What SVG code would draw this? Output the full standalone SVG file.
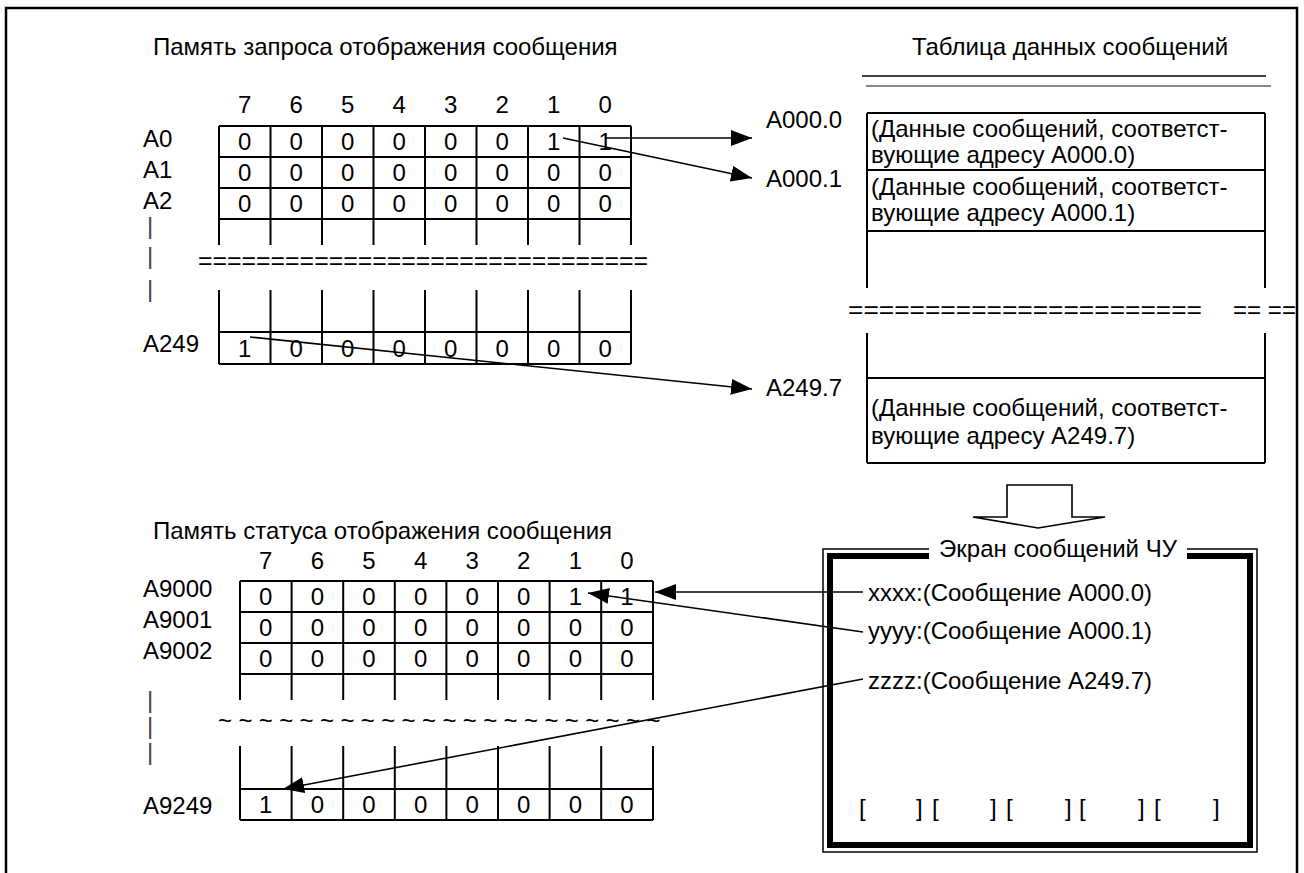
<svg xmlns="http://www.w3.org/2000/svg" width="1304" height="873" viewBox="0 0 1304 873">
<defs>
<style>
.t{font-family:"Liberation Sans",Arial,Helvetica,sans-serif;font-size:24px;fill:#000}
.c{text-anchor:middle}
.g{stroke:#000;stroke-width:2;fill:none}
.bar{fill:#444}
.cn{stroke:#000;stroke-width:1.6;fill:none;marker-end:url(#ah)}
</style>
<marker id="ah" markerUnits="userSpaceOnUse" markerWidth="24" markerHeight="18" refX="21" refY="8" orient="auto">
<path d="M0,0 L21,8 L0,16 z" fill="#000"/>
</marker>
</defs>
<rect width="1304" height="873" fill="#fff"/>
<path d="M6,873 V8 H1297 V873" fill="none" stroke="#000" stroke-width="2.5"/>

<g id="request-memory">
<text class="t" x="153" y="55">Память запроса отображения сообщения</text>
<text class="t c" x="244.75 296.25 347.75 399.25 450.75 502.25 553.75 605.25" y="113">76543210</text>
<path class="g" d="M219,126 H631 M219,157 H631 M219,188 H631 M219,219 H631
M219,126 V245 M270.5,126 V245 M322,126 V245 M373.5,126 V245 M425,126 V245 M476.5,126 V245 M528,126 V245 M579.5,126 V245 M631,126 V245
M219,290 V364 M270.5,290 V364 M322,290 V364 M373.5,290 V364 M425,290 V364 M476.5,290 V364 M528,290 V364 M579.5,290 V364 M631,290 V364
M219,332 H631 M219,364 H631"/>
<text class="t" x="143" y="147">A0</text>
<text class="t" x="143" y="178">A1</text>
<text class="t" x="143" y="209">A2</text>
<text class="t" x="143" y="352">A249</text>
<text class="t bar" x="147" y="234">|</text>
<text class="t bar" x="147" y="264">|</text>
<text class="t bar" x="147" y="297">|</text>
<text class="t c" x="244.75 296.25 347.75 399.25 450.75 502.25 553.75 605.25" y="150">00000011</text>
<text class="t c" x="244.75 296.25 347.75 399.25 450.75 502.25 553.75 605.25" y="181">00000000</text>
<text class="t c" x="244.75 296.25 347.75 399.25 450.75 502.25 553.75 605.25" y="212">00000000</text>
<text class="t c" x="244.75 296.25 347.75 399.25 450.75 502.25 553.75 605.25" y="357">10000000</text>
<text class="t" x="198" y="269" textLength="450" lengthAdjust="spacingAndGlyphs">===============================</text>
<text class="t" x="766" y="128">A000.0</text>
<text class="t" x="766" y="187">A000.1</text>
<text class="t" x="766" y="396">A249.7</text>
</g>

<g id="message-table">
<text class="t c" x="1070" y="55">Таблица данных сообщений</text>
<path d="M862,76 H1266" stroke="#000" stroke-width="1.5"/>
<path d="M866,86 H1271" stroke="#888" stroke-width="2"/>
<path class="g" d="M867,113 H1265 M867,170 H1265 M867,231 H1265 M867,113 V288 M1265,113 V288 M867,333 V463 M1265,333 V463 M867,378 H1265 M867,463 H1265"/>
<text class="t" x="871" y="137">(Данные сообщений, соответст-</text>
<text class="t" x="871" y="163">вующие адресу A000.0)</text>
<text class="t" x="871" y="195">(Данные сообщений, соответст-</text>
<text class="t" x="871" y="221">вующие адресу A000.1)</text>
<text class="t" x="848" y="318" textLength="354" lengthAdjust="spacingAndGlyphs">=======================</text>
<text class="t" x="1233" y="318" textLength="63" lengthAdjust="spacingAndGlyphs">== ==</text>
<text class="t" x="871" y="416">(Данные сообщений, соответст-</text>
<text class="t" x="871" y="444">вующие адресу A249.7)</text>
</g>

<g id="flow-arrow">
<polygon points="1007,485 1072,485 1072,517 1105,517 1038,528 973,517 1007,517" fill="#fff" stroke="#000" stroke-width="1.6"/>
</g>

<g id="status-memory">
<text class="t" x="153" y="539">Память статуса отображения сообщения</text>
<text class="t c" x="265.8 317.4 369 420.6 472.2 523.8 575.4 627" y="569">76543210</text>
<path class="g" d="M240,581 H653 M240,612 H653 M240,643 H653 M240,674 H653
M240,581 V700 M291.6,581 V700 M343.2,581 V700 M394.8,581 V700 M446.4,581 V700 M498,581 V700 M549.6,581 V700 M601.2,581 V700 M653,581 V700
M240,746 V820 M291.6,746 V820 M343.2,746 V820 M394.8,746 V820 M446.4,746 V820 M498,746 V820 M549.6,746 V820 M601.2,746 V820 M653,746 V820
M240,789 H653 M240,820 H653"/>
<text class="t" x="143" y="597">A9000</text>
<text class="t" x="143" y="628">A9001</text>
<text class="t" x="143" y="659">A9002</text>
<text class="t" x="143" y="814">A9249</text>
<text class="t bar" x="147" y="708">|</text>
<text class="t bar" x="147" y="734">|</text>
<text class="t bar" x="147" y="760">|</text>
<text class="t c" x="265.8 317.4 369 420.6 472.2 523.8 575.4 627" y="605">00000011</text>
<text class="t c" x="265.8 317.4 369 420.6 472.2 523.8 575.4 627" y="636">00000000</text>
<text class="t c" x="265.8 317.4 369 420.6 472.2 523.8 575.4 627" y="667">00000000</text>
<text class="t c" x="265.8 317.4 369 420.6 472.2 523.8 575.4 627" y="813">10000000</text>
<text class="t" y="729" x="218 228.2 238.4 248.6 258.8 269 279.2 289.4 299.6 309.8 320 330.2 340.4 350.6 360.8 371 381.2 391.4 401.6 411.8 422 432.2 442.4 452.6 462.8 473 483.2 493.4 503.6 513.8 524 534.2 544.4 554.6 564.8 575 585.2 595.4 605.6 615.8 626 636.2 646.4">~ ~ ~ ~ ~ ~ ~ ~ ~ ~ ~ ~ ~ ~ ~ ~ ~ ~ ~ ~ ~ ~</text>
</g>

<g id="nc-screen">
<rect x="823" y="549" width="434" height="303" fill="none" stroke="#000" stroke-width="1.5"/>
<rect x="830" y="556" width="420" height="289" fill="none" stroke="#000" stroke-width="6"/>
<rect x="929" y="538" width="258" height="24" fill="#fff"/>
<text class="t c" x="1058" y="557">Экран сообщений ЧУ</text>
<text class="t" x="868" y="601">xxxx:(Сообщение A000.0)</text>
<text class="t" x="868" y="639">yyyy:(Сообщение A000.1)</text>
<text class="t" x="868" y="689">zzzz:(Сообщение A249.7)</text>
<text class="t" y="816"><tspan x="859">[</tspan><tspan x="916">]</tspan><tspan x="932">[</tspan><tspan x="990">]</tspan><tspan x="1006">[</tspan><tspan x="1065">]</tspan><tspan x="1079">[</tspan><tspan x="1138">]</tspan><tspan x="1154">[</tspan><tspan x="1213">]</tspan></text>
</g>

<g id="connectors">
<path class="cn" d="M606,138 L752,138"/>
<path class="cn" d="M563,138 L752,178"/>
<path class="cn" d="M250,337 L752,389"/>
<path class="cn" d="M863,592 L655,592"/>
<path class="cn" d="M863,632 L588,593"/>
<path class="cn" d="M863,679 L283,789"/>
</g>
</svg>
